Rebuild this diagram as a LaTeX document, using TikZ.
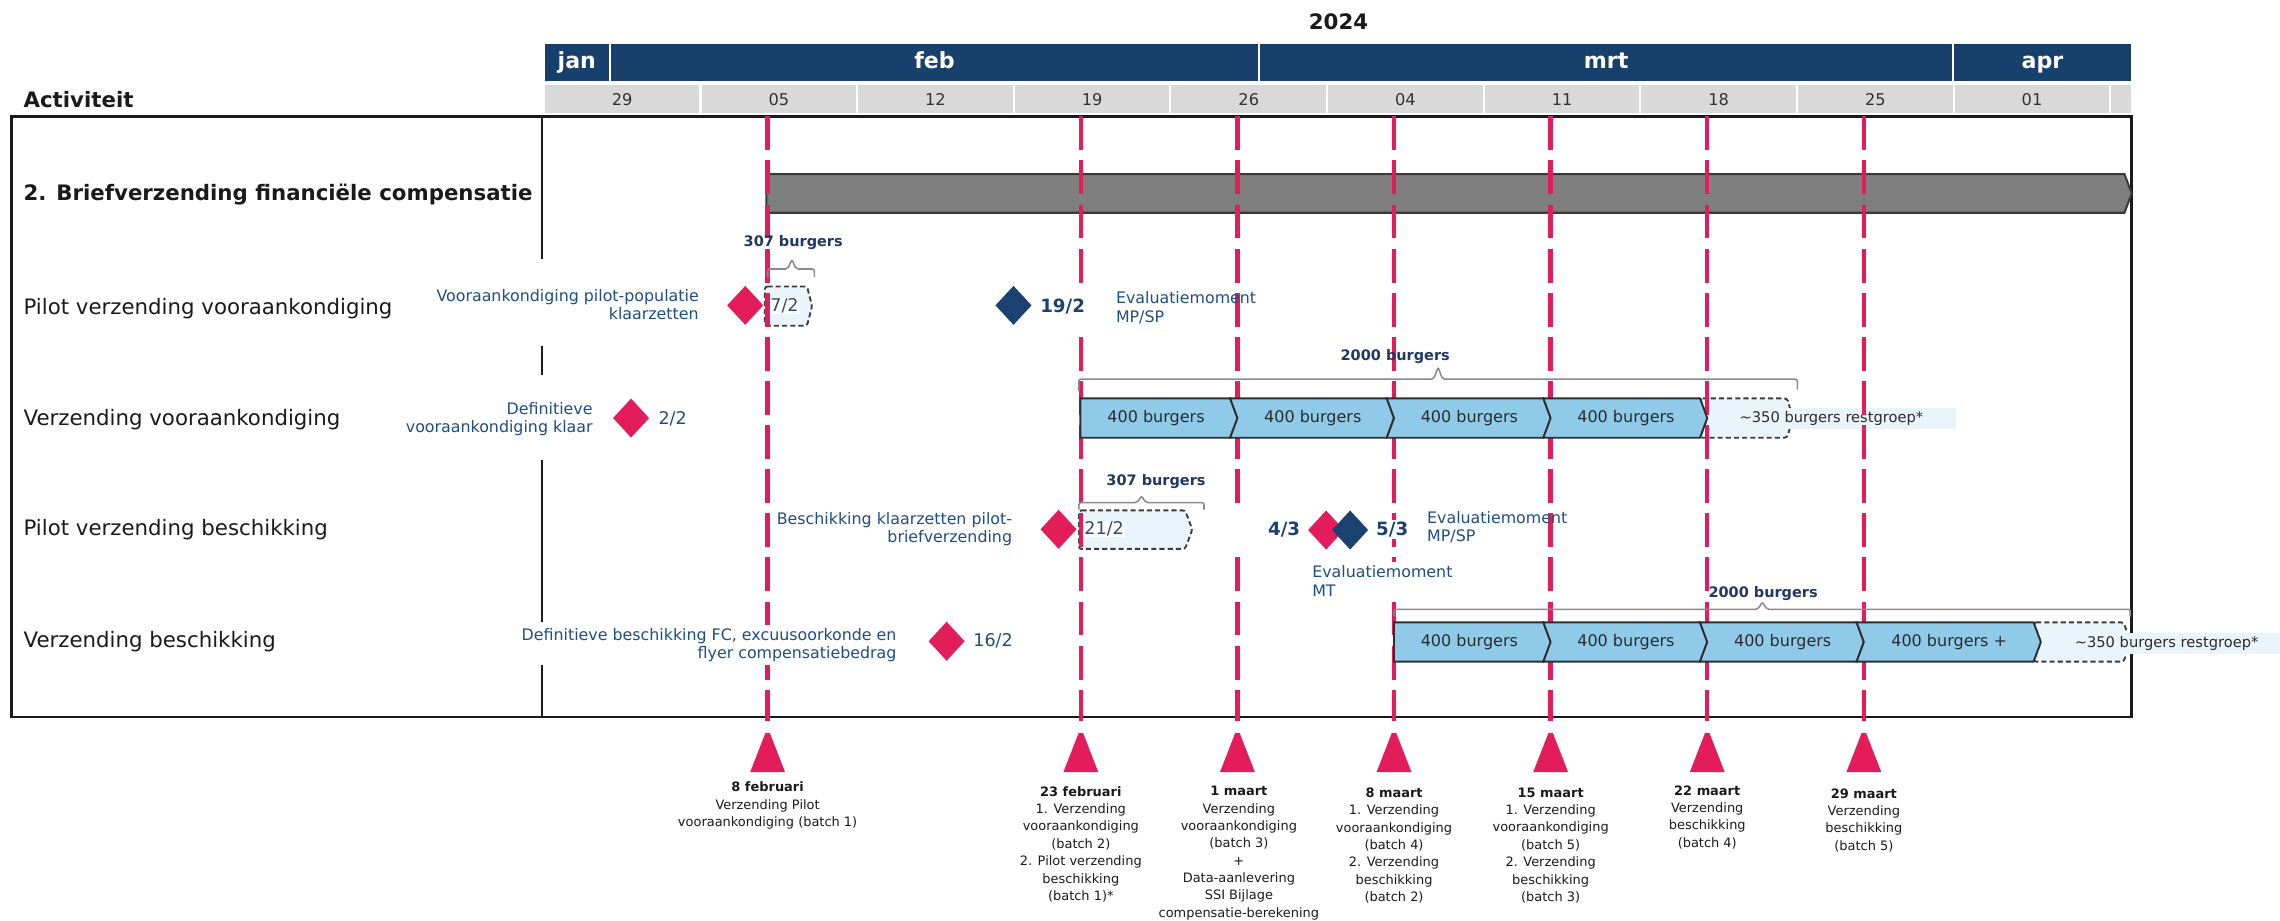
\documentclass[tikz,border=0pt]{standalone}
\usepackage{fontspec}
\setmainfont{DejaVu Sans}
\usetikzlibrary{shapes.geometric}
\definecolor{navy}{HTML}{17406D}
\definecolor{wkgray}{HTML}{D9D9D9}
\definecolor{wktext}{HTML}{333333}
\definecolor{rood}{HTML}{E31C5B}
\definecolor{navyd}{HTML}{1B4170}
\definecolor{navyt}{HTML}{1F3864}
\definecolor{annot}{HTML}{1F4E86}
\definecolor{barblue}{HTML}{8FCAE8}
\definecolor{boxfill}{HTML}{EAF4FB}
\definecolor{barline}{HTML}{2E2E2E}
\definecolor{bargray}{HTML}{7F7F7F}
\definecolor{bargrayline}{HTML}{3A3A3A}
\definecolor{dashgray}{HTML}{3C3C3C}
\definecolor{bracegray}{HTML}{8A8A8A}
\definecolor{txtdark}{HTML}{1A1A1A}
\definecolor{boxtext}{HTML}{2D4B73}
\definecolor{bartext}{HTML}{2B2B2B}

\newcommand{\barfirst}[5]{\path[chevbar] (#1,#3) -- ({#2-5},#3) -- (#2,#5) -- ({#2-5},#4) -- (#1,#4) -- cycle;}
\newcommand{\barnext}[5]{\path[chevbar] ({#1-5},#3) -- ({#2-5},#3) -- (#2,#5) -- ({#2-5},#4) -- ({#1-5},#4) -- (#1,#5) -- cycle;}

\begin{document}
\begin{tikzpicture}[x=0.03cm,y=-0.03cm,
  monthcell/.style={fill=navy, draw=white, line width=1.2pt},
  weekcell/.style={fill=wkgray, draw=white, line width=1.2pt},
  hdrmonth/.style={anchor=base, font=\fontsize{13}{15}\selectfont\bfseries, text=white},
  hdrweek/.style={font=\fontsize{9.5}{11}\selectfont, text=wktext},
  framestyle/.style={draw=txtdark, line width=1.5pt},
  divider/.style={draw=txtdark, line width=1.2pt},
  rowlbl/.style={anchor=west, font=\fontsize{12.5}{15}\selectfont, text=txtdark, inner sep=0pt},
  annotl/.style={font=\fontsize{9.3}{10.8}\selectfont, text=annot, fill=white, inner xsep=1.5pt, inner ysep=2pt},
  bracelbl/.style={font=\fontsize{8.5}{10}\selectfont\bfseries, text=navyt, inner sep=1pt},
  bartxt/.style={font=\fontsize{9.4}{11}\selectfont, text=bartext, inner sep=0pt},
  restlbl/.style={font=\fontsize{8.6}{10}\selectfont, text=bartext, fill=boxfill, minimum width=5.13cm, minimum height=0.43cm, inner sep=0pt},
  datebold/.style={anchor=west, font=\fontsize{10.7}{12}\selectfont\bfseries, text=navyd, fill=white, inner sep=1pt},
  datereg/.style={anchor=west, font=\fontsize{10.3}{12}\selectfont, text=annot, inner sep=1pt},
  boxdate/.style={anchor=west, font=\fontsize{10.3}{12}\selectfont, text=boxtext, fill=white, inner sep=0.5pt},
  mstone/.style={shape=diamond, minimum width=0.75cm, minimum height=0.81cm, inner sep=0pt},
  redms/.style={mstone, fill=rood},
  bluems/.style={mstone, fill=navyd},
  chevbar/.style={fill=barblue, draw=barline, line width=1.1pt, line join=miter},
  graybar/.style={fill=bargray, draw=bargrayline, line width=1.2pt},
  dashbox/.style={fill=boxfill, draw=dashgray, line width=1.1pt, dash pattern=on 3pt off 1.8pt, rounded corners=1.5pt},
  gbracket/.style={draw=bracegray, line width=0.9pt, rounded corners=1.2pt},
  redline/.style={draw=rood, line width=2.6pt, dash pattern=on 0.70cm off 0.21cm},
  botlbl/.style={anchor=north, align=center, font=\fontsize{7.6}{10.2}\selectfont, text=txtdark, inner sep=0pt}
]
\useasboundingbox (0,0) rectangle (1568,633);

% ---------------- header
\node[font=\fontsize{12.5}{15}\selectfont\bfseries, text=txtdark] (year) at (920.5,15) {2024};
\path[monthcell] (374,29.4) rectangle (419.5,56.2);
\path[monthcell] (419.5,29.4) rectangle (866,56.2);
\path[monthcell] (866,29.4) rectangle (1343.3,56.2);
\path[monthcell] (1343.3,29.4) rectangle (1466,56.2);
\node[hdrmonth] (mjan) at (396.7,47.3) {jan};
\node[hdrmonth] (mfeb) at (642.7,47.3) {feb};
\node[hdrmonth] (mmrt) at (1104.6,47.3) {mrt};
\node[hdrmonth] (mapr) at (1404.6,47.3) {apr};
\foreach \i/\lab in {0/29,1/05,2/12,3/19,4/26,5/04,6/11,7/18,8/25,9/01} {
  \path[weekcell] ({374+107.73*\i},57.8) rectangle ({374+107.73*(\i+1)},78.6);
  \node[hdrweek] (w\i) at ({374+107.73*(\i+0.5)},68.3) {\lab};
}
\path[weekcell] (1451.3,57.8) rectangle (1466,78.6);
\node[font=\fontsize{12.5}{15}\selectfont\bfseries, text=txtdark, anchor=west, inner sep=0pt] (act) at (16,68.3) {Activiteit};

% ---------------- frame
\draw[framestyle] (8,80) rectangle (1466,493);
\draw[divider] (373,80) -- (373,178) (373,238) -- (373,258) (373,316.5) -- (373,428) (373,457) -- (373,493);

% ---------------- row labels
\node[rowlbl, font=\fontsize{12.5}{15}\selectfont\bfseries] (r0) at (16,133.5) {2. Briefverzending financiële compensatie};
\node[rowlbl] (r1) at (16,212) {Pilot verzending vooraankondiging};
\node[rowlbl] (r2) at (16,288.5) {Verzending vooraankondiging};
\node[rowlbl] (r3) at (16,364.5) {Pilot verzending beschikking};
\node[rowlbl] (r4) at (16,441) {Verzending beschikking};

% ---------------- grey summary bar
\path[graybar] (527,119.7) -- (1461,119.7) -- (1466,133) -- (1461,146.3) -- (527,146.3) -- cycle;

% ---------------- dashed boxes
\path[dashbox] (526,197) -- (555,197) -- (558.5,210.5) -- (555,224) -- (526,224) -- cycle;
\path[dashbox] (742,351) -- (815,351) -- (820,364.2) -- (815,377.5) -- (742,377.5) -- cycle;
\path[dashbox] (1169.1,274) -- (1229,274) -- (1233,287.5) -- (1229,301) -- (1169.1,301) -- (1174.1,287.5) -- cycle;
\path[dashbox] (1398.5,428) -- (1460.5,428) -- (1465,441.5) -- (1460.5,455) -- (1398.5,455) -- (1403.5,441.5) -- cycle;
\node[restlbl] (rest2) at (1259.5,288) {\textasciitilde 350 burgers restgroep*};
\node[restlbl] (rest4) at (1490,442.5) {\textasciitilde 350 burgers restgroep*};

% ---------------- red milestone lines and triangles
\foreach \i/\x in {1/527.9,2/743.3,3/851,4/958.7,5/1066.4,6/1174.1,7/1281.8} {
  \coordinate (vt\i) at (\x,80);
  \coordinate (vb\i) at (\x,496);
  \draw[redline] (vt\i) -- (vb\i);
  \fill[rood] ({\x-1.5},504) -- ({\x+1.5},504) -- ({\x+12},531) -- ({\x-12},531) -- cycle;
}

% ---------------- chevron bars row 2
\barfirst{743}{851}{274}{301}{287.5}
\barnext{851}{958.7}{274}{301}{287.5}
\barnext{958.7}{1066.4}{274}{301}{287.5}
\barnext{1066.4}{1174.1}{274}{301}{287.5}
\node[bartxt] (b21) at (795,287.5) {400 burgers};
\node[bartxt] (b22) at (902.8,287.5) {400 burgers};
\node[bartxt] (b23) at (1010.5,287.5) {400 burgers};
\node[bartxt] (b24) at (1118.2,287.5) {400 burgers};

% ---------------- chevron bars row 4
\barfirst{958.7}{1066.4}{428}{455}{441.5}
\barnext{1066.4}{1174.1}{428}{455}{441.5}
\barnext{1174.1}{1281.8}{428}{455}{441.5}
\barnext{1281.8}{1403.5}{428}{455}{441.5}
\node[bartxt] (b41) at (1010.5,441.5) {400 burgers};
\node[bartxt] (b42) at (1118.2,441.5) {400 burgers};
\node[bartxt] (b43) at (1226,441.5) {400 burgers};
\node[bartxt] (b44) at (1340.5,441.5) {400 burgers +};

% ---------------- brackets
\draw[gbracket] (528,190.5) -- (528,185) -- (541.6,185) -- (544.6,178.5) -- (547.6,185) -- (560,185) -- (560,190.5);
\draw[gbracket] (742,269) -- (742,260.7) -- (986,260.7) -- (989,252.5) -- (992,260.7) -- (1236,260.7) -- (1236,268);
\draw[gbracket] (742,350.5) -- (742,345.7) -- (782,345.7) -- (785,341) -- (788,345.7) -- (828,345.7) -- (828,350.5);
\draw[gbracket] (958.7,424) -- (958.7,419) -- (1209,419) -- (1212,414) -- (1215,419) -- (1465,419) -- (1465,424);
\node[bracelbl] (l307a) at (545.5,167) {307 burgers};
\node[bracelbl] (l2000a) at (959.5,245) {2000 burgers};
\node[bracelbl] (l307b) at (795,331.5) {307 burgers};
\node[bracelbl] (l2000b) at (1212.5,408) {2000 burgers};

% ---------------- annotations
\node[annotl, anchor=east, align=right] (a1) at (482.5,209.3) {Vooraankondiging pilot-populatie\\klaarzetten};
\node[annotl, anchor=west, align=left, fill=none] (a2) at (765.5,211.5) {Evaluatiemoment\\MP/SP};
\node[annotl, anchor=east, align=right] (a3) at (409.5,288.3) {Definitieve\\vooraankondiging klaar};
\node[annotl, anchor=east, align=right] (a4) at (698,364) {Beschikking klaarzetten pilot-\\briefverzending};
\node[annotl, anchor=west, align=left, fill=none] (a5) at (979.5,362.5) {Evaluatiemoment\\MP/SP};
\node[annotl, anchor=west, align=left] (a6) at (900.5,399.5) {Evaluatiemoment\\MT};
\node[annotl, anchor=east, align=right] (a7) at (618.5,443.6) {Definitieve beschikking FC, excuusoorkonde en\\flyer compensatiebedrag};

% ---------------- dates
\node[datebold, minimum height=0.95cm] (n192) at (714,211) {19/2};
\node[datereg] (n22) at (451.5,288) {2/2};
\node[datebold, anchor=east, text width=1.4cm, align=right, minimum height=1.1cm] (n43) at (895.5,364) {4/3};
\node[datebold] (n53) at (945,364) {5/3};
\node[datereg] (n162) at (668,441) {16/2};
\node[boxdate] (n72) at (529,210.5) {7/2};
\node[boxdate] (n212) at (745,364) {21/2};

% ---------------- milestones
\node[redms] (m1) at (512.5,210) {};
\node[bluems] (m2) at (697,210) {};
\node[redms] (m3) at (434,287.5) {};
\node[redms] (m4) at (728,364) {};
\node[redms] (m5) at (912,364.5) {};
\node[bluems] (m6) at (928.5,364.5) {};
\node[redms] (m7) at (651,441) {};

% ---------------- bottom labels
\node[botlbl] (lb1) at (527.9,537.5) {\textbf{8 februari}\\Verzending Pilot\\vooraankondiging (batch 1)};
\node[botlbl] (lb2) at (743.3,540.5) {\textbf{23 februari}\\1. Verzending\\vooraankondiging\\(batch 2)\\2. Pilot verzending\\beschikking\\(batch 1)*};
\node[botlbl] (lb3) at (852,540.5) {\textbf{1 maart}\\Verzending\\vooraankondiging\\(batch 3)\\+\\Data-aanlevering\\SSI Bijlage\\compensatie-berekening};
\node[botlbl] (lb4) at (958.7,541.5) {\textbf{8 maart}\\1. Verzending\\vooraankondiging\\(batch 4)\\2. Verzending\\beschikking\\(batch 2)};
\node[botlbl] (lb5) at (1066.4,541.5) {\textbf{15 maart}\\1. Verzending\\vooraankondiging\\(batch 5)\\2. Verzending\\beschikking\\(batch 3)};
\node[botlbl] (lb6) at (1174.1,540) {\textbf{22 maart}\\Verzending\\beschikking\\(batch 4)};
\node[botlbl] (lb7) at (1281.8,542) {\textbf{29 maart}\\Verzending\\beschikking\\(batch 5)};
\end{tikzpicture}
\end{document}
